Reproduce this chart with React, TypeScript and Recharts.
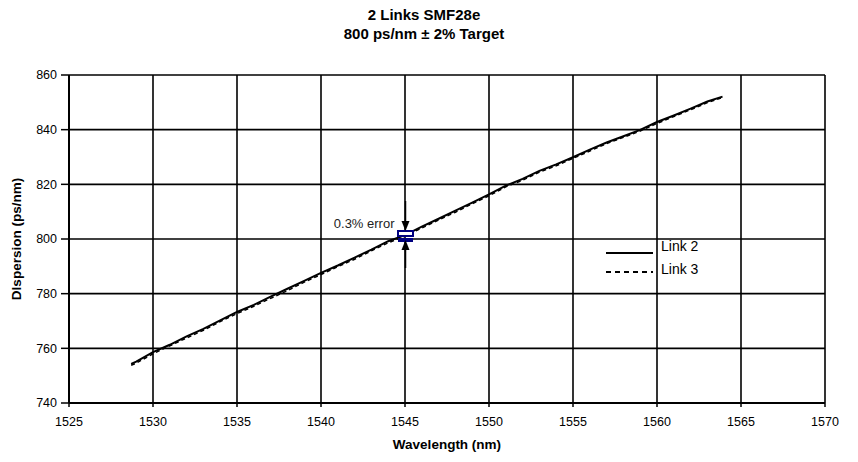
import React from 'react';
import {
  ComposedChart,
  Line,
  XAxis,
  YAxis,
  CartesianGrid,
  ReferenceDot,
  Label,
} from 'recharts';

// wavelength (nm)
const wavelengths = [
  1528.7, 1529, 1530, 1531, 1532, 1533, 1534, 1535, 1536, 1537, 1538, 1539,
  1540, 1541, 1542, 1543, 1544, 1545, 1546, 1547, 1548, 1549, 1550, 1551,
  1552, 1553, 1554, 1555, 1556, 1557, 1558, 1559, 1560, 1561, 1562, 1563,
  1563.9,
];

// dispersion (ps/nm)
const link2 = [
  754.3, 755.1, 758.6, 761.3, 764.4, 767.1, 770.2, 773.3, 775.9, 778.9, 781.8,
  784.7, 787.6, 790.3, 793.2, 796.1, 799.2, 801.4, 804.5, 807.4, 810.4, 813.3,
  816.3, 819.5, 822.0, 824.9, 827.3, 829.9, 832.7, 835.3, 837.6, 839.9, 842.8,
  845.2, 847.7, 850.3, 852.1,
];

const link3 = [
  753.8, 754.6, 758.0, 760.9, 763.8, 766.6, 769.8, 772.7, 775.4, 778.3, 781.1,
  784.2, 787.0, 789.9, 792.6, 795.7, 798.6, 801.1, 804.0, 807.0, 809.8, 812.9,
  815.8, 819.1, 821.5, 824.5, 826.8, 829.5, 832.2, 834.9, 837.2, 839.5, 842.3,
  844.8, 847.3, 849.9, 851.8,
];

const xTicks = [1525, 1530, 1535, 1540, 1545, 1550, 1555, 1560, 1565, 1570];
const yTicks = [740, 760, 780, 800, 820, 840, 860];

const seriesNames = ['Link 2', 'Link 3'];
const target = { wavelength: 1545, dispersion: 800.5, note: '0.3% error' };

const chartData = wavelengths.map((wl, i) => ({
  wl,
  link2: link2[i],
  link3: link3[i],
}));

const FONT = '"Liberation Sans", Arial, sans-serif';

// blue error marker with the two arrows pointing at it
function ErrorMarker(props: any) {
  const { cx, cy } = props;
  const x = Math.round(cx) + 0.5;
  const y = Math.round(cy);
  return (
    <g>
      <rect x={x - 7.5} y={y - 7} width={15} height={5} fill="#fff" stroke="#000080" strokeWidth={2} />
      <rect x={x - 7.5} y={y} width={15} height={4} fill="#000080" />
      <line x1={x} y1={y - 37} x2={x} y2={y - 14} stroke="#000" strokeWidth={1.5} />
      <polygon points={`${x - 4},${y - 17} ${x + 4},${y - 17} ${x},${y - 7}`} fill="#000" />
      <line x1={x} y1={y + 12} x2={x} y2={y + 30} stroke="#000" strokeWidth={1.5} />
      <polygon points={`${x - 4},${y + 12} ${x + 4},${y + 12} ${x},${y + 2}`} fill="#000" />
      <text x={x - 11} y={y - 10} textAnchor="end" fontSize={13} fill="#222" fontFamily={FONT}>
        {target.note}
      </text>
    </g>
  );
}

export default function App() {
  const tickStyle = { fontSize: 12.5, fill: '#000', stroke: 'none', fontFamily: FONT };
  return (
    <div
      style={{
        position: 'fixed',
        top: 0,
        left: 0,
        width: 858,
        height: 462,
        background: '#fff',
        fontFamily: FONT,
      }}
    >
      <div
        style={{
          position: 'absolute',
          top: 5,
          left: 0,
          width: 848,
          textAlign: 'center',
          fontWeight: 'bold',
          fontSize: 15,
          lineHeight: '19px',
        }}
      >
        <div>2 Links SMF28e</div>
        <div>800 ps/nm ± 2% Target</div>
      </div>
      <ComposedChart
        width={858}
        height={462}
        data={chartData}
        margin={{ top: 75, right: 33, bottom: 0, left: 0 }}
      >
        <CartesianGrid stroke="#000" strokeWidth={1.6} horizontal vertical />
        <XAxis
          dataKey="wl"
          type="number"
          domain={[1525, 1570]}
          ticks={xTicks}
          interval={0}
          height={59}
          tickSize={4}
          tickMargin={10}
          axisLine={{ stroke: '#000', strokeWidth: 2 }}
          tickLine={{ stroke: '#000', strokeWidth: 1.5 }}
          tick={tickStyle}
        >
          <Label
            value="Wavelength (nm)"
            position="insideBottom"
            offset={13}
            style={{ fontSize: 13.5, fontWeight: 'bold', fill: '#000', fontFamily: FONT }}
          />
        </XAxis>
        <YAxis
          type="number"
          domain={[740, 860]}
          ticks={yTicks}
          interval={0}
          width={69}
          tickSize={8}
          tickMargin={4}
          axisLine={{ stroke: '#000', strokeWidth: 2 }}
          tickLine={{ stroke: '#000', strokeWidth: 1.5 }}
          tick={tickStyle}
        >
          <Label
            value="DIspersion (ps/nm)"
            angle={-90}
            position="insideLeft"
            offset={16}
            style={{ textAnchor: 'middle', fontSize: 13.5, fontWeight: 'bold', fill: '#000', fontFamily: FONT }}
          />
        </YAxis>
        <Line
          dataKey="link2"
          name={seriesNames[0]}
          type="linear"
          stroke="#000"
          strokeWidth={2}
          dot={false}
          activeDot={false}
          isAnimationActive={false}
        />
        <Line
          dataKey="link3"
          name={seriesNames[1]}
          type="linear"
          stroke="#000"
          strokeWidth={1.5}
          strokeDasharray="4 3"
          dot={false}
          activeDot={false}
          isAnimationActive={false}
        />
        <ReferenceDot
          x={target.wavelength}
          y={target.dispersion}
          r={0}
          shape={<ErrorMarker />}
          ifOverflow="visible"
        />
      </ComposedChart>
      {/* legend sits inside the plot, lines beside the names */}
      <div
        style={{
          position: 'absolute',
          left: 605,
          top: 237,
          width: 110,
          fontSize: 14,
          color: '#000',
          whiteSpace: 'nowrap',
        }}
      >
        <div style={{ position: 'relative', height: 20 }}>
          <svg width={50} height={4} style={{ position: 'absolute', left: 0, top: 14 }}>
            <line x1={1} y1={2} x2={48} y2={2} stroke="#000" strokeWidth={2} />
          </svg>
          <span style={{ position: 'absolute', left: 56, top: 1 }}>{seriesNames[0]}</span>
        </div>
        <div style={{ position: 'relative', height: 20 }}>
          <svg width={50} height={4} style={{ position: 'absolute', left: 0, top: 13 }}>
            <line x1={1} y1={2} x2={48} y2={2} stroke="#000" strokeWidth={2} strokeDasharray="5 4" />
          </svg>
          <span style={{ position: 'absolute', left: 56, top: 4 }}>{seriesNames[1]}</span>
        </div>
      </div>
    </div>
  );
}
